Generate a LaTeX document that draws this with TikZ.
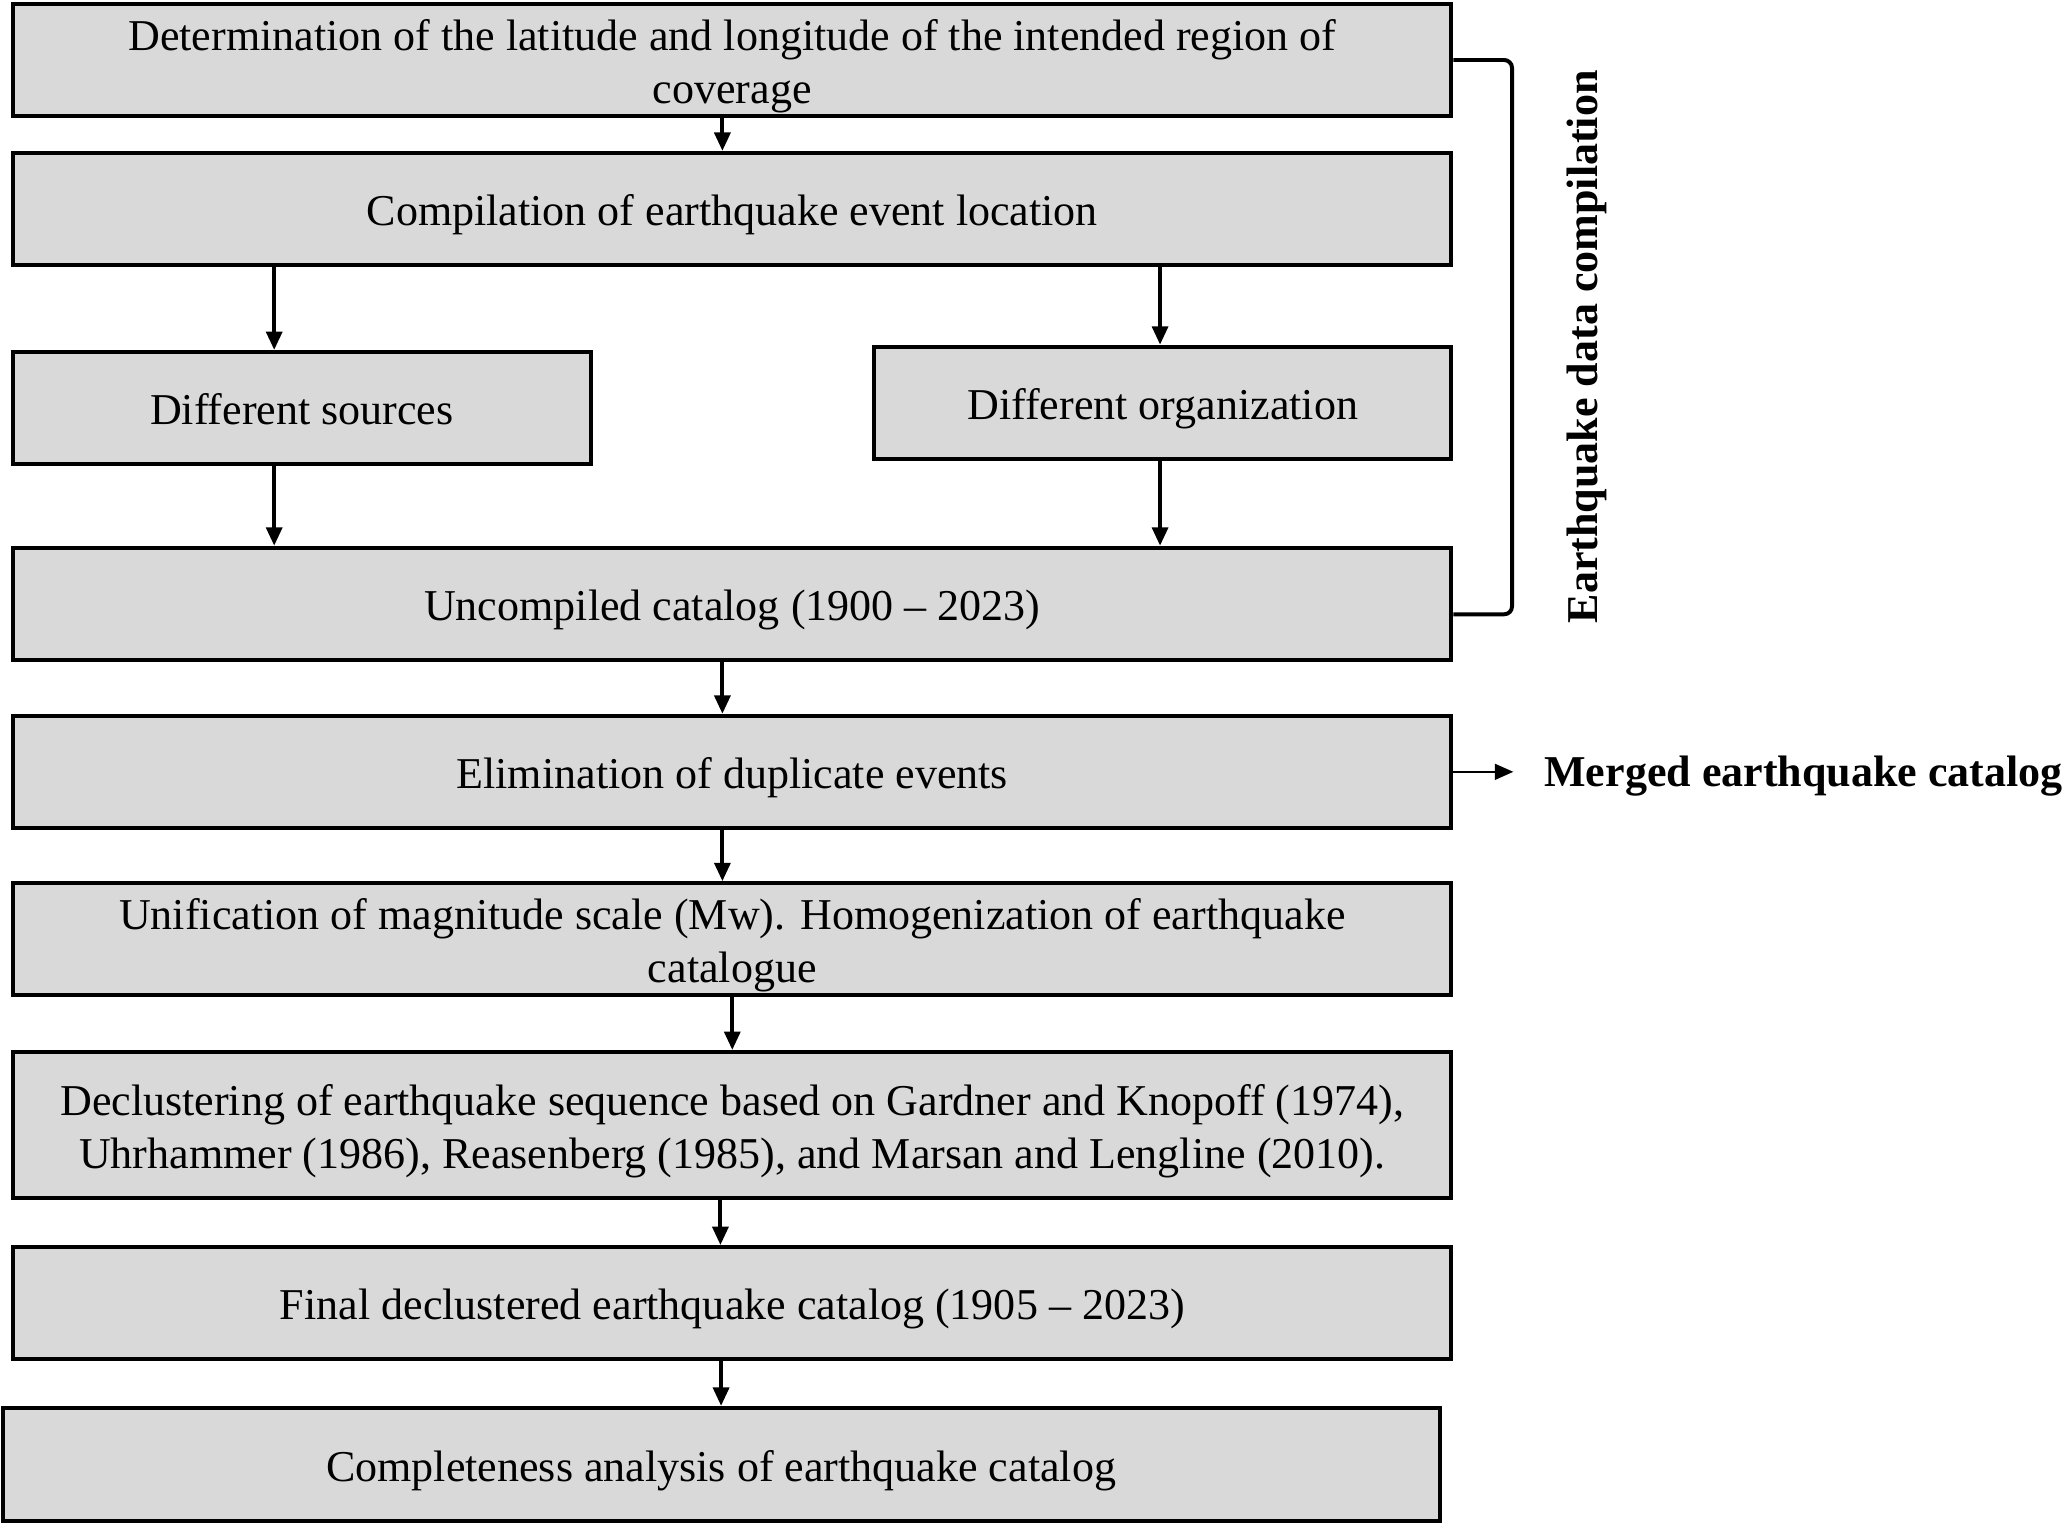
\documentclass[tikz,border=0pt]{standalone}
\usepackage{fontspec}
\setmainfont{Liberation Serif}
\usetikzlibrary{arrows.meta}
\definecolor{boxgray}{RGB}{217,217,217}
\newcommand{\topstrut}{\rule[-4pt]{0pt}{20.8pt}}
\tikzset{every picture/.style={line width=1.5pt}}
\tikzset{
  stepbox/.style={draw, fill=boxgray, line width=1.5pt, minimum width=545.5pt, minimum height=42.5pt, inner sep=0pt, align=center, font=\fontsize{16.7}{20}\selectfont, execute at begin node={\topstrut}},
  halfbox/.style={stepbox, minimum width=219pt},
  arr/.style={line width=1.5pt, -{Triangle[length=7pt,width=6pt]}},
  thinarr/.style={line width=0.75pt, -{Triangle[length=7pt,width=6pt]}},
  bracket/.style={line width=1.5pt, rounded corners=3pt},
  boldlbl/.style={inner sep=0pt, font=\fontsize{16.7}{20}\selectfont\bfseries}
}

\begin{document}
\begin{tikzpicture}[x=0.5pt,y=0.5pt,yscale=-1,xscale=1]
\path[use as bounding box] (0,0) rectangle (1568,1156);

%Shape: Rectangle
\node[stepbox] (region) at (555.5,45.5) {\topstrut Determination of the latitude and longitude of the intended region of\\coverage};
%Shape: Rectangle
\node[stepbox] (location) at (555.5,158.5) {Compilation of earthquake event location};
%Shape: Rectangle
\node[halfbox] (sources) at (229,309.5) {Different sources};
%Shape: Rectangle
\node[halfbox] (organ) at (882,305.5) {Different organization};
%Shape: Rectangle
\node[stepbox] (uncompiled) at (555.5,458) {Uncompiled catalog (1900 -- 2023)};
%Shape: Rectangle
\node[stepbox] (duplicate) at (555.5,585.5) {Elimination of duplicate events};
%Shape: Rectangle
\node[stepbox] (unify) at (555.5,712.5) {\topstrut Unification of magnitude scale (Mw). Homogenization of earthquake\\catalogue};
%Shape: Rectangle
\node[stepbox, minimum height=55.5pt] (decluster) at (555.5,853.5) {\topstrut Declustering of earthquake sequence based on Gardner and Knopoff (1974),\\Uhrhammer (1986), Reasenberg (1985), and Marsan and Lengline (2010).};
%Shape: Rectangle
\node[stepbox] (final) at (555.5,988.5) {Final declustered earthquake catalog (1905 -- 2023)};
%Shape: Rectangle
\node[stepbox, minimum width=545pt, minimum height=43pt] (complete) at (547,1111) {Completeness analysis of earthquake catalog};

% Text Node
\node[boldlbl, rotate=90] (compil) at (1204,263) {Earthquake data compilation};
% Text Node
\node[boldlbl, anchor=base west] (merged) at (1170,597) {Merged earthquake catalog};

% columns of the connectors
\coordinate (colM) at (548,0);
\coordinate (colL) at (208,0);
\coordinate (colR) at (880,0);
\coordinate (colB) at (1147,0);
\coordinate (brkend) at ([yshift=4pt]uncompiled.east);
\coordinate (mtip) at ([xshift=-11pt]merged.west);

%Straight Lines
\draw[arr] (region.south -| colM) -- (location.north -| colM);
\draw[arr] (location.south -| colL) -- (sources.north -| colL);
\draw[arr] (location.south -| colR) -- (organ.north -| colR);
\draw[arr] (sources.south -| colL) -- (uncompiled.north -| colL);
\draw[arr] (organ.south -| colR) -- (uncompiled.north -| colR);
\draw[arr] (uncompiled.south -| colM) -- (duplicate.north -| colM);
\draw[arr] (duplicate.south -| colM) -- (unify.north -| colM);
\draw[arr] (unify.south) -- (decluster.north);
\draw[arr] ([xshift=-4.5pt]decluster.south) -- ([xshift=-4.5pt]final.north);
\draw[arr] (final.south -| complete.north) -- (complete.north);
\draw[thinarr] (duplicate.east) -- (duplicate.east -| mtip);

%Bracket
\draw[bracket] (region.east) -- (colB |- region.east) -- (colB |- brkend) -- (brkend);

\end{tikzpicture}
\end{document}
